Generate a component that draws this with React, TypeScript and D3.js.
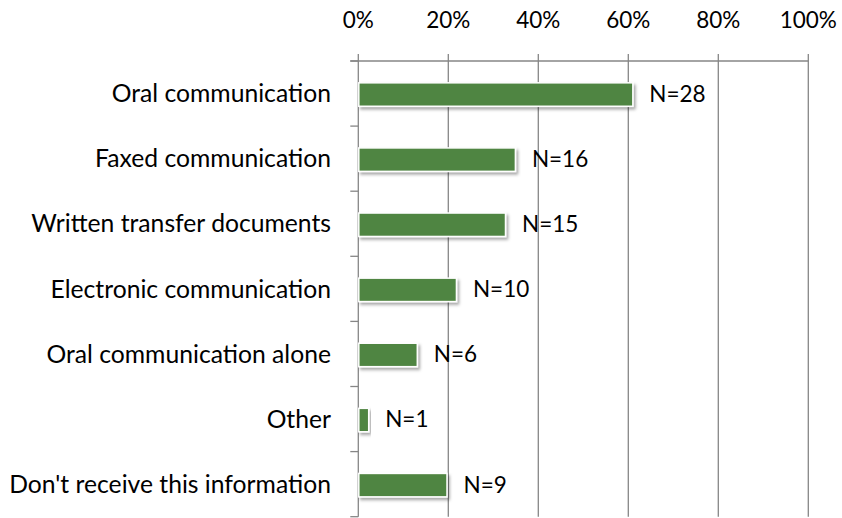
import React from "react";
import * as d3 from "d3";

const categories = [
  "Oral communication",
  "Faxed communication",
  "Written transfer documents",
  "Electronic communication",
  "Oral communication alone",
  "Other",
  "Don't receive this information",
];
const percentValues = [60.9, 34.8, 32.6, 21.7, 13.0, 2.2, 19.6];
const countLabels = ["N=28", "N=16", "N=15", "N=10", "N=6", "N=1", "N=9"];
const xTicks = [0, 20, 40, 60, 80, 100];

const W = 842;
const H = 518;
const left = 358.3;
const right = 808.3;
const top = 61;
const bottom = 516.7;
const FONT = "Lato, 'Liberation Sans', Arial, sans-serif";
const FS_CAT = 24.7;
const FS_NUM = 22.5;

export default function App() {
  const x = d3.scaleLinear().domain([0, 100]).range([left, right]);
  const y = d3
    .scaleBand<string>()
    .domain(categories)
    .range([top, bottom])
    .paddingInner(0.64)
    .paddingOuter(0.32);
  const bandBounds = d3.range(categories.length + 1).map((i) => top + i * ((bottom - top) / categories.length));
  const axisColor = "#868686";

  return (
    <svg
      width={W}
      height={H}
      style={{ position: "absolute", left: 0, top: 0, background: "#fff" }}
      fontFamily={FONT}
    >
      <defs>
        <filter id="shadow" x="-10%" y="-30%" width="130%" height="190%">
          <feDropShadow dx="2" dy="2.5" stdDeviation="1.6" floodColor="#000" floodOpacity="0.35" />
        </filter>
      </defs>
      {xTicks.map((t) => (
        <line
          key={"g" + t}
          x1={x(t)}
          x2={x(t)}
          y1={top - 7}
          y2={bottom}
          stroke={axisColor}
          strokeWidth={1.3}
        />
      ))}
      <line x1={left - 8} x2={right} y1={top} y2={top} stroke={axisColor} strokeWidth={1.3} />
      {bandBounds.map((b, i) => (
        <line key={"t" + i} x1={left - 8} x2={left} y1={b} y2={b} stroke={axisColor} strokeWidth={1.3} />
      ))}
      {xTicks.map((t) => (
        <text key={"l" + t} x={x(t)} y={27.5} textAnchor="middle" fontSize={FS_NUM} fill="#000">
          {t + "%"}
        </text>
      ))}
      {categories.map((c, i) => (
        <rect
          key={"b" + c}
          x={x(0) + 0.5}
          y={(y(c) as number) + 1}
          width={x(percentValues[i]) - x(0)}
          height={y.bandwidth()}
          fill="#508543"
          stroke="#fff"
          strokeWidth={1.5}
          filter="url(#shadow)"
        />
      ))}
      {categories.map((c) => (
        <text
          key={"c" + c}
          x={331}
          y={(y(c) as number) + y.bandwidth() / 2 + 1}
          dy="0.31em"
          textAnchor="end"
          fontSize={FS_CAT}
          fill="#000"
        >
          {c}
        </text>
      ))}
      {categories.map((c, i) => (
        <text
          key={"v" + c}
          x={x(percentValues[i]) + 17}
          y={(y(c) as number) + y.bandwidth() / 2 + 1}
          dy="0.33em"
          fontSize={FS_NUM}
          fill="#000"
        >
          {countLabels[i]}
        </text>
      ))}
    </svg>
  );
}
